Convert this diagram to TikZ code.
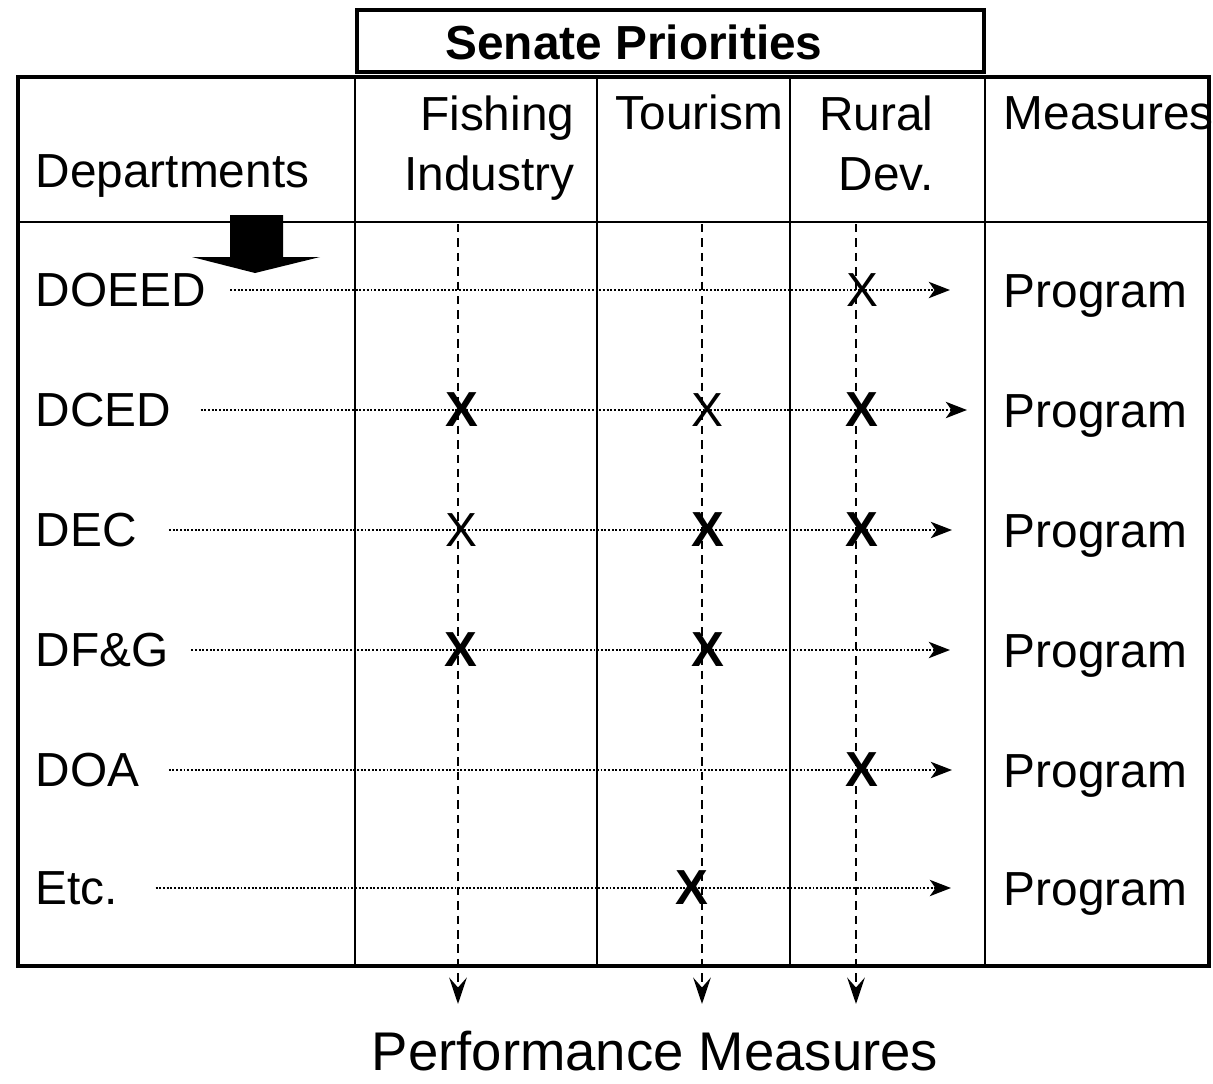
\documentclass[tikz,border=0pt]{standalone}
\usepackage{fontspec}
\setmainfont{Liberation Sans}
\usetikzlibrary{arrows.meta}

\begin{document}
\begin{tikzpicture}[x=0.1mm,y=-0.1mm,line cap=butt,
  lbl/.style={inner sep=0pt,font=\fontsize{13.6}{17}\selectfont},
  cross/.style={lbl},
  boldcross/.style={lbl,font=\fontsize{14}{17}\selectfont\bfseries},
  rowline/.style={line width=0.8pt,dash pattern=on 0.55pt off 0.5pt,
    -{Stealth[length=6pt,width=4.6pt,inset=1.6pt]}},
  colline/.style={line width=0.8pt,dash pattern=on 2.4pt off 1.7pt,
    -{Stealth[length=7.5pt,width=5pt,inset=2.8pt]}}]
  \useasboundingbox (0,0) rectangle (1213,1084);

  % frame and grid
  \draw[line width=1.1pt] (357,10) rectangle (984,72);
  \draw[line width=1.1pt] (18,77) rectangle (1209,966);
  \draw[line width=0.85pt] (355,77) -- (355,966);
  \draw[line width=0.85pt] (597,77) -- (597,966);
  \draw[line width=0.85pt] (790,77) -- (790,966);
  \draw[line width=0.85pt] (985,77) -- (985,966);
  \draw[line width=0.75pt] (18,222) -- (1209,222);

  % header
  \node[lbl,font=\fontsize{13.6}{17}\selectfont\bfseries] (sen) at (634,42) {Senate Priorities};
  \node[lbl,anchor=base west] (dep) at (35,187) {Departments};
  \node[lbl,anchor=north east,align=right] (fish) at (575,95) {Fishing\\Industry};
  \node[lbl,anchor=base west] (tour) at (615,129) {Tourism};
  \node[lbl,anchor=north east,align=right] (rural) at (934,95) {Rural\\Dev.};
  \node[lbl,anchor=base west] (meas) at (1003,129) {Measures};

  % block arrow under the left heading
  \fill (230,215) -- (283,215) -- (283,257) -- (320,257) -- (255,273)
    -- (192,257) -- (230,257) -- cycle;

  % departments and programs
  \node[lbl,anchor=west] (d1) at (35,290) {DOEED};
  \node[lbl,anchor=west] (d2) at (35,410) {DCED};
  \node[lbl,anchor=west] (d3) at (35,530) {DEC};
  \node[lbl,anchor=west] (d4) at (35,650) {DF\&G};
  \node[lbl,anchor=west] (d5) at (35,770) {DOA};
  \node[lbl,anchor=west] (d6) at (35,888) {Etc.};
  \node[lbl,anchor=base west] (p1) at (1003,307) {Program};
  \node[lbl,anchor=base west] (p2) at (1003,427) {Program};
  \node[lbl,anchor=base west] (p3) at (1003,547) {Program};
  \node[lbl,anchor=base west] (p4) at (1003,667) {Program};
  \node[lbl,anchor=base west] (p5) at (1003,787) {Program};
  \node[lbl,anchor=base west] (p6) at (1003,905) {Program};

  \coordinate (e1) at (950,290);
  \coordinate (e2) at (967,410);
  \coordinate (e3) at (952,530);
  \coordinate (e4) at (950,650);
  \coordinate (e5) at (952,770);
  \coordinate (e6) at (951,888);
  \draw[rowline,shorten <=6.8pt] (d1) -- (e1);
  \draw[rowline,shorten <=8.2pt] (d2) -- (e2);
  \draw[rowline,shorten <=9pt] (d3) -- (e3);
  \draw[rowline,shorten <=6.3pt] (d4) -- (e4);
  \draw[rowline,shorten <=8.2pt] (d5) -- (e5);
  \draw[rowline,shorten <=10.5pt] (d6) -- (e6);

  % marks
  \node[cross] (x1r) at (862,290) {X};
  \node[boldcross] (x2f) at (462,410) {X};
  \node[cross] (x2t) at (707,410) {X};
  \node[boldcross] (x2r) at (862,410) {X};
  \node[cross] (x3f) at (461,530) {X};
  \node[boldcross] (x3t) at (708,530) {X};
  \node[boldcross] (x3r) at (862,530) {X};
  \node[boldcross] (x4f) at (461,650) {X};
  \node[boldcross] (x4t) at (708,650) {X};
  \node[boldcross] (x5r) at (862,770) {X};
  \node[boldcross] (x6t) at (692,888) {X};

  % measures down each priority
  \coordinate (c1) at (458,224);
  \coordinate (c2) at (702,224);
  \coordinate (c3) at (856,224);
  \coordinate (b1) at (458,1004);
  \coordinate (b2) at (702,1004);
  \coordinate (b3) at (856,1004);
  \draw[colline] (c1) -- (b1);
  \draw[colline] (c2) -- (b2);
  \draw[colline] (c3) -- (b3);

  \node[inner sep=0pt,anchor=base,font=\fontsize{15.5}{18}\selectfont] (perf) at (655,1070) {Performance Measures};
\end{tikzpicture}
\end{document}
